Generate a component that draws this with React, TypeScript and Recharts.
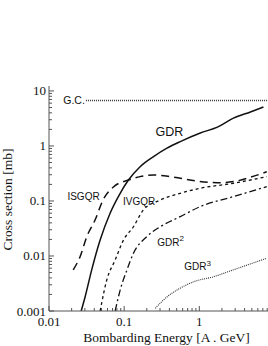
import { ComposedChart, Line, XAxis, YAxis, ReferenceDot } from "recharts";

// energies in A.GeV, cross sections in mb
const gdrEnergy = [0.0268, 0.0302, 0.037, 0.0479, 0.065, 0.0885, 0.114, 0.163, 0.246, 0.371, 0.558, 1.03, 1.74, 2.84, 4.79, 7.13];
const gdrSigma = [0.001, 0.0018, 0.0056, 0.0195, 0.06, 0.138, 0.24, 0.42, 0.64, 0.91, 1.2, 1.72, 2.2, 3.2, 4.15, 5.1];

const isgqrEnergy = [0.021, 0.0259, 0.0318, 0.041, 0.0525, 0.072, 0.114, 0.163, 0.246, 0.41, 0.558, 0.93, 1.72, 2.84, 4.79, 7.9];
const isgqrSigma = [0.0056, 0.0097, 0.0224, 0.045, 0.105, 0.18, 0.24, 0.277, 0.297, 0.277, 0.259, 0.23, 0.215, 0.225, 0.27, 0.34];

const ivgqrEnergy = [0.0479, 0.0587, 0.0759, 0.098, 0.133, 0.18, 0.302, 0.558, 1.03, 2.84, 7.9];
const ivgqrSigma = [0.001, 0.00366, 0.00846, 0.0195, 0.034, 0.0686, 0.104, 0.138, 0.17, 0.21, 0.277];

const gdr2Energy = [0.0759, 0.0885, 0.109, 0.133, 0.2, 0.302, 0.558, 1.03, 2.84, 7.9];
const gdr2Sigma = [0.001, 0.0024, 0.0056, 0.0112, 0.0225, 0.034, 0.052, 0.079, 0.12, 0.182];

const gdr3Energy = [0.259, 0.371, 0.558, 0.84, 1.55, 2.84, 7.9];
const gdr3Sigma = [0.00112, 0.0018, 0.0026, 0.0034, 0.0042, 0.0056, 0.0091];

const gcEnergy = [0.031, 8.2];
const gcSigma = [6.7, 6.7];

const energyTicks = [
  0.01, 0.02, 0.03, 0.04, 0.05, 0.06, 0.07, 0.08, 0.09,
  0.1, 0.2, 0.3, 0.4, 0.5, 0.6, 0.7, 0.8, 0.9,
  1, 2, 3, 4, 5, 6, 7, 8,
];
const sigmaTicks = [
  0.001, 0.002, 0.003, 0.004, 0.005, 0.006, 0.007, 0.008, 0.009,
  0.01, 0.02, 0.03, 0.04, 0.05, 0.06, 0.07, 0.08, 0.09,
  0.1, 0.2, 0.3, 0.4, 0.5, 0.6, 0.7, 0.8, 0.9,
  1, 2, 3, 4, 5, 6, 7, 8, 9, 10,
];

// curve names placed next to the curves
const curveLabels = [
  { e: 0.03, s: 6.7, text: "G.C.", sup: "", size: 10.5, anchor: "end" },
  { e: 0.4, s: 1.87, text: "GDR", sup: "", size: 12.5, anchor: "middle" },
  { e: 0.0288, s: 0.123, text: "ISGQR", sup: "", size: 10, anchor: "middle" },
  { e: 0.158, s: 0.1, text: "IVGQR", sup: "", size: 10, anchor: "middle" },
  { e: 0.275, s: 0.018, text: "GDR", sup: "2", size: 10, anchor: "start" },
  { e: 0.63, s: 0.0064, text: "GDR", sup: "3", size: 10, anchor: "start" },
];

const zip = (xs: number[], ys: number[]) => xs.map((e, i) => ({ e, s: ys[i] }));

const SERIF = "'Liberation Serif', 'DejaVu Serif', serif";
const SANS = "'Liberation Sans', Arial, sans-serif";
const INK = "#111";
const AXIS = "#555";

const isMajor = (v: number) => Math.abs(Math.log10(v) - Math.round(Math.log10(v))) < 1e-6;
const fmt = (v: number) => String(v);

const BottomTick = (props: any) => {
  const { x, y, payload } = props;
  const major = isMajor(payload.value);
  return (
    <g>
      <line x1={x} y1={y} x2={x} y2={y - (major ? 5 : 3)} stroke={AXIS} strokeWidth={1} />
      {major && (
        <text x={x} y={y + 15} textAnchor="middle" fontFamily={SERIF} fontSize={13} fill={INK}>
          {fmt(payload.value)}
        </text>
      )}
    </g>
  );
};

const TopTick = (props: any) => {
  const { x, y, payload } = props;
  const major = isMajor(payload.value);
  return <line x1={x} y1={y} x2={x} y2={y + (major ? 5 : 3)} stroke={AXIS} strokeWidth={1} />;
};

const LeftTick = (props: any) => {
  const { x, y, payload } = props;
  const major = isMajor(payload.value);
  return (
    <g>
      <line x1={x} y1={y} x2={x + (major ? 5 : 3)} y2={y} stroke={AXIS} strokeWidth={1} />
      {major && (
        <text x={x - 3} y={y + 4.5} textAnchor="end" fontFamily={SERIF} fontSize={13} fill={INK}>
          {fmt(payload.value)}
        </text>
      )}
    </g>
  );
};

const makeLabel = (l: (typeof curveLabels)[number]) => (props: any) => {
  const { cx, cy } = props;
  return (
    <text
      x={cx}
      y={cy + l.size * 0.36}
      textAnchor={l.anchor as any}
      fontFamily={SANS}
      fontSize={l.size}
      fill={INK}
    >
      {l.text}
      {l.sup && (
        <tspan dy={-l.size * 0.45} fontSize={l.size * 0.8}>
          {l.sup}
        </tspan>
      )}
    </text>
  );
};

export default function App() {
  const xDomain = [0.01, 8.2];
  const yDomain = [0.001, 12.3];
  return (
    <div style={{ position: "absolute", left: 0, top: 0, width: 268, height: 346, background: "#fff" }}>
      <ComposedChart width={268} height={346} margin={{ top: 86, right: 0, bottom: 0, left: 0 }}>
        <XAxis
          dataKey="e"
          type="number"
          scale="log"
          domain={xDomain}
          allowDataOverflow
          ticks={energyTicks}
          interval={0}
          tickSize={0}
          tickMargin={0}
          tickLine={false}
          tick={BottomTick}
          height={35}
          stroke={AXIS}
          label={{
            content: (p: any) => {
              const vb = p.viewBox;
              return (
                <text
                  x={vb.x + vb.width / 2 + 8}
                  y={vb.y + 31}
                  textAnchor="middle"
                  fontFamily={SERIF}
                  fontSize={13.5}
                  fill={INK}
                >
                  Bombarding Energy [A . GeV]
                </text>
              );
            },
          }}
        />
        <XAxis
          xAxisId="top"
          dataKey="e"
          type="number"
          scale="log"
          orientation="top"
          domain={xDomain}
          allowDataOverflow
          ticks={energyTicks}
          interval={0}
          tickSize={0}
          tickMargin={0}
          tickLine={false}
          tick={TopTick}
          height={0}
          stroke={AXIS}
        />
        <YAxis
          dataKey="s"
          type="number"
          scale="log"
          domain={yDomain}
          allowDataOverflow
          ticks={sigmaTicks}
          interval={0}
          tickSize={0}
          tickMargin={0}
          tickLine={false}
          tick={LeftTick}
          width={49}
          stroke={AXIS}
          label={{
            content: (p: any) => {
              const vb = p.viewBox;
              const cx = vb.x + 12;
              const cy = vb.y + vb.height / 2 + 1;
              return (
                <text
                  x={cx}
                  y={cy}
                  transform={`rotate(-90 ${cx} ${cy})`}
                  textAnchor="middle"
                  fontFamily={SERIF}
                  fontSize={13.5}
                  fill={INK}
                >
                  Cross section [mb]
                </text>
              );
            },
          }}
        />
        <Line data={zip(gcEnergy, gcSigma)} dataKey="s" type="linear" stroke="#333" strokeWidth={1.3} strokeDasharray="1 1" dot={false} isAnimationActive={false} />
        <Line data={zip(gdrEnergy, gdrSigma)} dataKey="s" type="monotone" stroke={INK} strokeWidth={1.5} dot={false} isAnimationActive={false} />
        <Line data={zip(isgqrEnergy, isgqrSigma)} dataKey="s" type="monotone" stroke={INK} strokeWidth={1.5} strokeDasharray="8 5" dot={false} isAnimationActive={false} />
        <Line data={zip(ivgqrEnergy, ivgqrSigma)} dataKey="s" type="monotone" stroke={INK} strokeWidth={1.3} strokeDasharray="3 3" dot={false} isAnimationActive={false} />
        <Line data={zip(gdr2Energy, gdr2Sigma)} dataKey="s" type="monotone" stroke={INK} strokeWidth={1.3} strokeDasharray="7 3 2 3" dot={false} isAnimationActive={false} />
        <Line data={zip(gdr3Energy, gdr3Sigma)} dataKey="s" type="monotone" stroke="#333" strokeWidth={1.1} strokeDasharray="1 1" dot={false} isAnimationActive={false} />
        {curveLabels.map((l) => (
          <ReferenceDot key={l.text + l.sup} x={l.e} y={l.s} r={0} shape={makeLabel(l)} />
        ))}
      </ComposedChart>
    </div>
  );
}
